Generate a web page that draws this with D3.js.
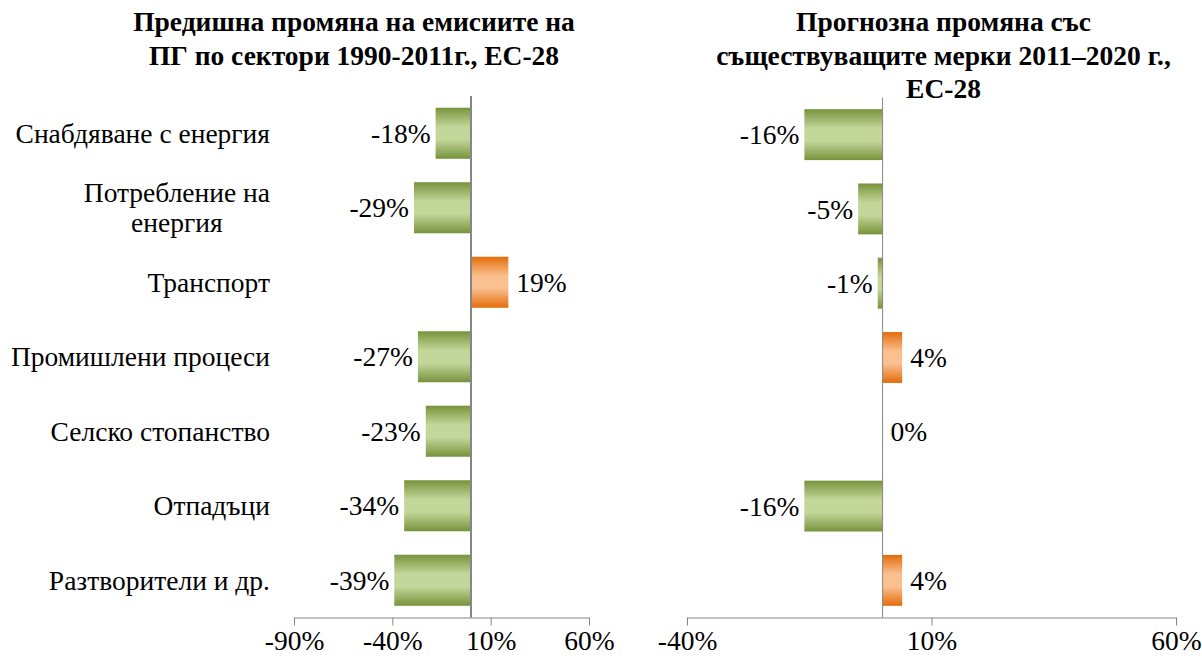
<!DOCTYPE html>
<html><head><meta charset="utf-8">
<script src="https://cdn.jsdelivr.net/npm/d3@7"></script>
<style>body{margin:0;background:#fff}svg{display:block}text{font-family:"Liberation Serif","Times New Roman",serif;fill:#000}</style>
</head><body>
<svg id="c" width="1202" height="660"></svg>
<script>
const categories = [["Снабдяване с енергия"],["Потребление на","енергия"],["Транспорт"],["Промишлени процеси"],["Селско стопанство"],["Отпадъци"],["Разтворители и др."]];
const catKeys = categories.map(c => c.join(" "));
const past = [-18,-29,19,-27,-23,-34,-39];
const projected = [-16,-5,-1,4,0,-16,4];
const leftTicks = [-90,-40,10,60];
const rightTicks = [-40,10,60];
const leftTitle = ["Предишна промяна на емисиите на","ПГ по сектори 1990-2011г., ЕС-28"];
const rightTitle = ["Прогнозна промяна със","съществуващите мерки 2011–2020 г.,","ЕС-28"];

const FF = '"Liberation Serif","Times New Roman",serif';
const svg = d3.select("#c");
const defs = svg.append("defs");
function grad(id, edge, mid){
  const g = defs.append("linearGradient").attr("id",id).attr("x1",0).attr("y1",0).attr("x2",0).attr("y2",1);
  [[0,edge],[0.38,mid],[0.62,mid],[1,edge]].forEach(([o,c])=>g.append("stop").attr("offset",o).attr("stop-color",c));
}
grad("gG","#77933C","#C4D79B");
grad("gO","#E46C0A","#FAC090");

const FS = 27.5;
function panel(vals, ticks, x0, x1, top, bottom, zeroW, title, titleX){
  const x = d3.scaleLinear().domain([ticks[0], ticks[ticks.length-1]]).range([x0,x1]);
  const y = d3.scaleBand().domain(catKeys).range([top,bottom]).paddingInner(0.315).paddingOuter(0.1575);
  const g = svg.append("g");
  g.selectAll("rect").data(vals).join("rect")
    .attr("x", d => Math.min(x(0), x(d)))
    .attr("width", d => Math.abs(x(d)-x(0)))
    .attr("y", (d,i) => y(catKeys[i]))
    .attr("height", y.bandwidth())
    .attr("fill", d => d < 0 ? "url(#gG)" : "url(#gO)");
  g.selectAll("text.v").data(vals).join("text").attr("class","v")
    .attr("x", d => d < 0 ? x(d)-5 : x(d)+8)
    .attr("y", (d,i) => y(catKeys[i]) + y.bandwidth()/2)
    .attr("dy","0.35em")
    .attr("text-anchor", d => d < 0 ? "end" : "start")
    .attr("font-size", FS).attr("font-family", FF)
    .text(d => d + "%");
  g.append("line").attr("x1",x(0)).attr("x2",x(0)).attr("y1",top).attr("y2",bottom)
    .attr("stroke","#868686").attr("stroke-width",zeroW);
  const ax = g.append("g").attr("transform",`translate(0,${bottom})`)
    .call(d3.axisBottom(x).tickValues(ticks).tickFormat(d => d + "%").tickSize(8).tickSizeOuter(0).tickPadding(5));
  ax.attr("font-family", FF);
  ax.select(".domain").attr("stroke","#868686");
  ax.selectAll(".tick line").attr("stroke","#868686");
  ax.selectAll(".tick text").attr("font-size",FS).attr("font-family",FF).attr("fill","#000");
  const t = svg.append("text").attr("font-size",FS).attr("font-weight","bold").attr("text-anchor","middle").attr("font-family",FF);
  title.forEach((l,i)=> t.append("tspan").attr("x",titleX).attr("y",31 + i*33.5).text(l));
  return y;
}
const yL = panel(past, leftTicks, 294, 589, 96, 617.5, 2, leftTitle, 354);
panel(projected, rightTicks, 687, 1176, 97.5, 617.5, 1, rightTitle, 943.5);

const rightEdge = 270;
categories.forEach((lines,i) => {
  const cy = yL(catKeys[i]) + yL.bandwidth()/2;
  const t = svg.append("text").attr("font-size",FS).attr("text-anchor","middle").attr("font-family",FF);
  const tsp = lines.map((l,j) => t.append("tspan").attr("y", cy + (j - (lines.length-1)/2)*30).attr("dy","0.35em").text(l));
  const w = d3.max(tsp, s => s.node().getComputedTextLength());
  tsp.forEach(s => s.attr("x", rightEdge - w/2));
});
</script>
</body></html>
